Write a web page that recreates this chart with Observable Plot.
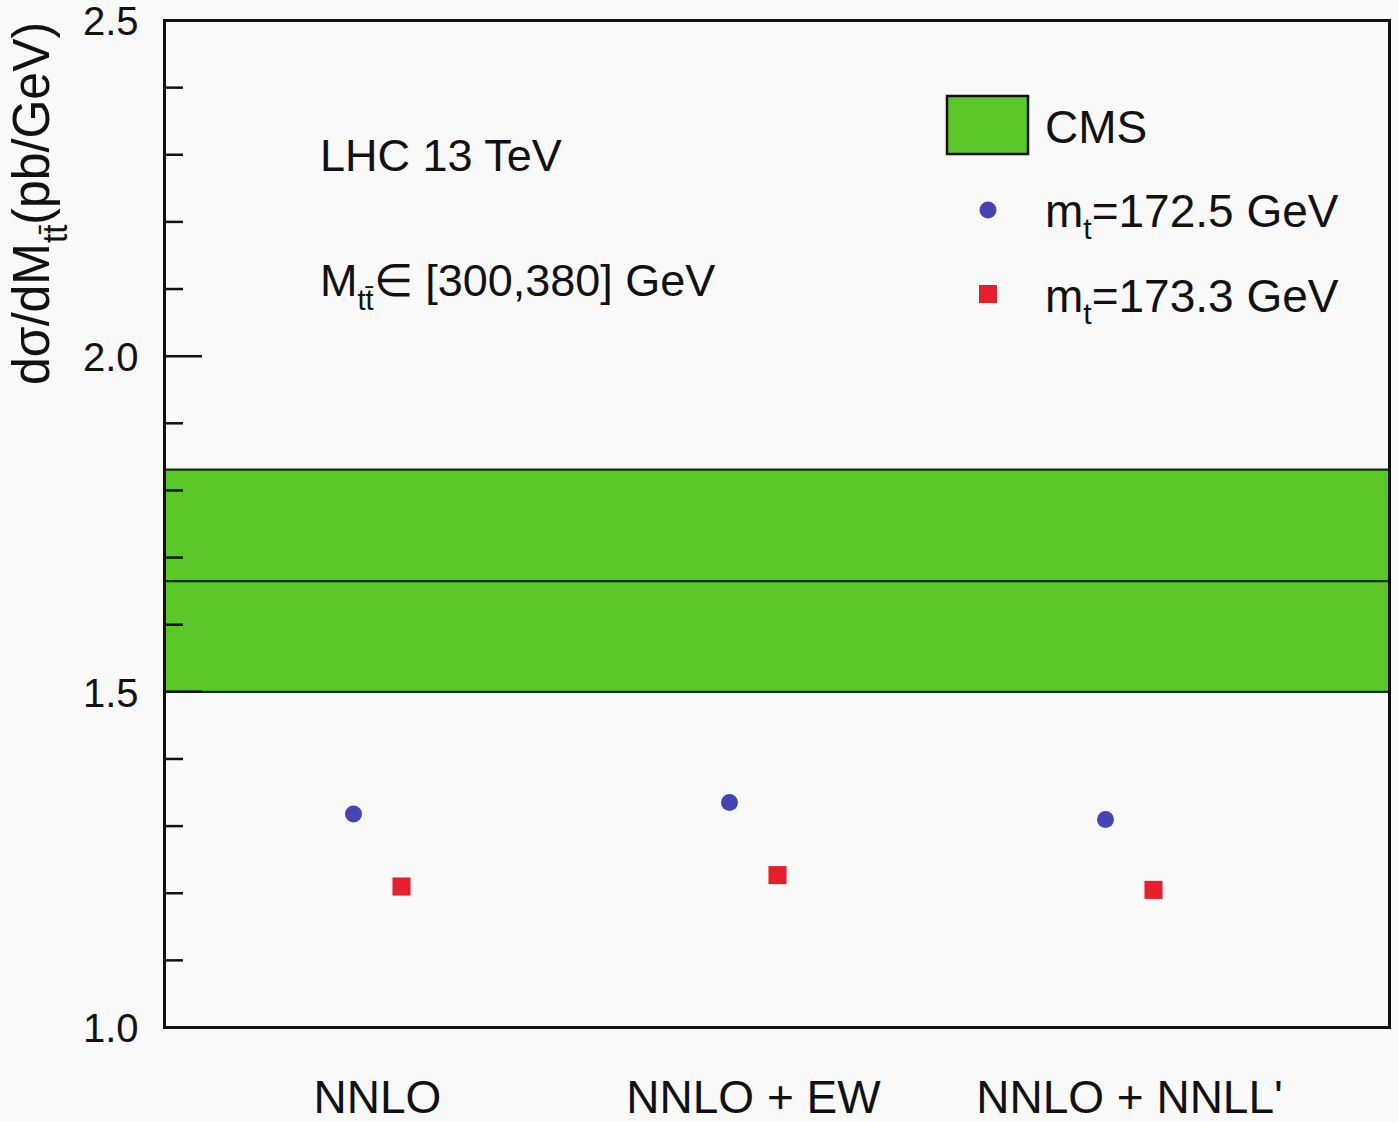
<!DOCTYPE html>
<html>
<head>
<meta charset="utf-8">
<script src="https://cdn.jsdelivr.net/npm/d3@7"></script>
<script src="https://cdn.jsdelivr.net/npm/@observablehq/plot@0.6"></script>
<style>
  html, body { margin: 0; padding: 0; background: #f9f9f9; }
  svg { display: block; }
</style>
</head>
<body>
<div id="chart"></div>
<script>
// ---- data ----
const categories = ["NNLO", "NNLO + EW", "NNLO + NNLL'"];
const mt1725 = [1.318, 1.335, 1.310];   // m_t = 172.5 GeV (circles)
const mt1733 = [1.210, 1.227, 1.205];   // m_t = 173.3 GeV (squares)
const cmsLow = 1.5, cmsCentral = 1.665, cmsHigh = 1.831;
const yMajorTicks = [1.0, 1.5, 2.0, 2.5];
const yMinorTicks = [1.1, 1.2, 1.3, 1.4, 1.6, 1.7, 1.8, 1.9, 2.1, 2.2, 2.3, 2.4];
const yDomain = [1.0, 2.5];
const legendLabels = ["CMS", "172.5 GeV", "173.3 GeV"];

// ---- styles ----
const W = 1398, H = 1122;
const mL = 164, mR = 9, mT = 20, mB = 95;
const plotW = W - mL - mR;
const green = "#5bc627", bandLine = "#0a350a";
const blue = "#4545b2", red = "#e4202a";
const font = "'Liberation Sans', Arial, Helvetica, sans-serif";

const pts1 = categories.map((c, i) => ({cat: c, v: mt1725[i]}));
const pts2 = categories.map((c, i) => ({cat: c, v: mt1733[i]}));

const svg = Plot.plot({
  width: W, height: H,
  marginLeft: mL, marginRight: mR, marginTop: mT, marginBottom: mB,
  style: {background: "#f9f9f9", fontFamily: font, color: "#111"},
  x: {type: "point", domain: categories, padding: 0.6247, align: 0.45},
  y: {domain: yDomain},
  marks: [
    Plot.rect([{lo: cmsLow, hi: cmsHigh}], {y1: "lo", y2: "hi", fill: green}),
    Plot.ruleY([cmsLow, cmsCentral, cmsHigh], {stroke: bandLine, strokeWidth: 2.2}),
    Plot.ruleY(yMajorTicks, {stroke: "#111", strokeWidth: 2.5, insetRight: plotW - 38}),
    Plot.ruleY(yMinorTicks, {stroke: "#111", strokeWidth: 2.5, insetRight: plotW - 19}),
    Plot.axisY({ticks: yMajorTicks, tickSize: 0, tickPadding: 26, fontSize: 40, dy: 2,
                tickFormat: d3.format(".1f"), label: null}),
    Plot.axisX({tickSize: 0, tickPadding: 53, fontSize: 46, label: null}),
    Plot.dot(pts1, {x: "cat", y: "v", dx: -24, r: 8.5, fill: blue, symbol: "circle"}),
    Plot.dot(pts2, {x: "cat", y: "v", dx: 24, r: 10.2, fill: red, symbol: "square"}),
    Plot.frame({stroke: "#111", strokeWidth: 3})
  ]
});
document.getElementById("chart").appendChild(svg);

const s = d3.select(svg);

// y-axis label (rotated, with subscript)
const yl = s.append("text")
  .attr("text-anchor", "start")
  .attr("transform", "translate(49,385) rotate(-90) scale(1,1.04)")
  .attr("font-family", font).attr("font-size", 50).attr("fill", "#111");
yl.append("tspan").text("dσ/dM");
yl.append("tspan").attr("font-size", 33).attr("dy", 17).text("tt\u0304");
yl.append("tspan").attr("dy", -17).text("(pb/GeV)");

// annotations
s.append("text").attr("x", 320).attr("y", 171).attr("text-anchor", "start")
  .attr("font-family", font).attr("font-size", 45).attr("fill", "#111")
  .text("LHC 13 TeV");
const m = s.append("text").attr("x", 320).attr("y", 296).attr("text-anchor", "start")
  .attr("font-family", font).attr("font-size", 45).attr("fill", "#111");
m.append("tspan").text("M");
m.append("tspan").attr("font-size", 29).attr("dy", 14).text("tt\u0304");
m.append("tspan").attr("dy", -14).text("\u2208 [300,380] GeV");

// legend
const lg = s.append("g").attr("font-family", font).attr("font-size", 46)
  .attr("fill", "#111").attr("text-anchor", "start");
lg.append("rect").attr("x", 947).attr("y", 96).attr("width", 81).attr("height", 58)
  .attr("fill", green).attr("stroke", "#111").attr("stroke-width", 2.5);
lg.append("text").attr("x", 1045).attr("y", 143).text(legendLabels[0]);
lg.append("circle").attr("cx", 988).attr("cy", 210).attr("r", 8.5).attr("fill", blue);
const t1 = lg.append("text").attr("x", 1045).attr("y", 227);
t1.append("tspan").text("m");
t1.append("tspan").attr("font-size", 30).attr("dy", 12).text("t");
t1.append("tspan").attr("dy", -12).text("=" + legendLabels[1]);
lg.append("rect").attr("x", 979).attr("y", 285).attr("width", 18).attr("height", 18).attr("fill", red);
const t2 = lg.append("text").attr("x", 1045).attr("y", 312);
t2.append("tspan").text("m");
t2.append("tspan").attr("font-size", 30).attr("dy", 12).text("t");
t2.append("tspan").attr("dy", -12).text("=" + legendLabels[2]);
</script>
</body>
</html>
